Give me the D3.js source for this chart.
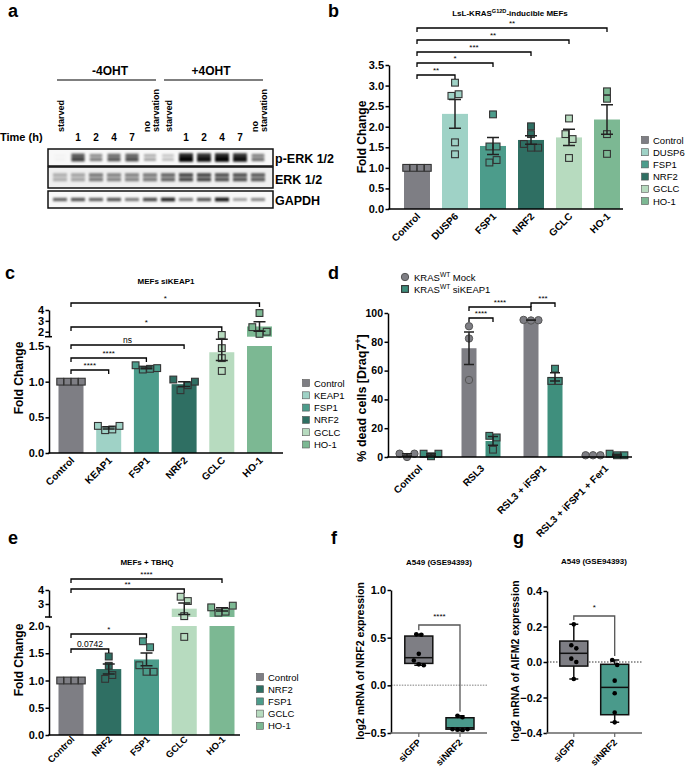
<!DOCTYPE html>
<html><head><meta charset="utf-8">
<script src="https://cdn.jsdelivr.net/npm/d3@7/dist/d3.min.js"></script>
<style>html,body{margin:0;padding:0;background:#fff}svg{display:block}</style>
</head><body>
<svg id="fig" width="685" height="767"></svg>
<script>
// ---------------- DATA ----------------
// Panel a: western blot, relative band intensities (0-1)
const blotLanes = ["starved","1","2","4","7","no starvation","starved","1","2","4","7","no starvation"];
const blotProteins = ["p-ERK 1/2","ERK 1/2","GAPDH"];
const pERKBand = [0.03,0.75,0.5,0.65,0.7,0.35,0.25,1.0,0.95,1.0,0.95,0.55];
const erkBand = [0.3,0.35,0.55,0.5,0.5,0.55,0.65,0.8,0.8,0.75,0.75,0.7];
const gapdhBand = [0.6,0.65,0.6,0.65,0.5,0.7,0.85,0.5,0.65,0.9,0.35,0.45];

// Panel b
const bCategories = ["Control","DUSP6","FSP1","NRF2","GCLC","HO-1"];
const bValues = [[1,1,1,1],[3.07,2.75,2.79,1.62,1.33],[2.30,1.52,1.52,1.13,1.19],[2.01,1.82,1.58,1.49,1.49],[2.20,1.82,1.70,1.24],[2.68,2.86,1.82,1.34]];
const bTicks = [0,0.5,1,1.5,2,2.5,3,3.5];
const bSignificance = ["**","*","***","**","**"];

// Panel c
const cCategories = ["Control","KEAP1","FSP1","NRF2","GCLC","HO-1"];
const cValues = [[1,1,1,1],[0.38,0.32,0.33,0.38],[1.23,1.17,1.18,1.19],[1.03,0.88,0.95,1.0],[1.70,1.47,1.33,1.15],[3.72,2.42,1.80,2.0]];
const cTicksLow = [0,0.5,1,1.5];
const cTicksHigh = [2,3,4];
const cSignificance = ["****","****","ns","*","*"];

// Panel d
const dGroups = ["Control","RSL3","RSL3 + iFSP1","RSL3 + iFSP1 + Fer1"];
const dSeries = ["Mock","siKEAP1"];
const dMock = [[2.3,0,2.3],[90.8,82.3,53.5],[95.2,94.8,95.0],[1.2,1.2,1.2]];
const dSiKEAP1 = [[2.3,0.5,2.3],[14.7,13.6,5.1],[61.3,52.8,52.8],[2.3,1.2,1.2]];
const dTicks = [0,20,40,60,80,100];
const dSignificance = ["****","****","***"];

// Panel e
const eCategories = ["Control","NRF2","FSP1","GCLC","HO-1"];
const eValues = [[1,1,1,1],[1.44,1.27,1.03,1.10],[1.72,1.61,1.28,1.16,1.16],[3.52,3.21,2.13,1.80],[2.76,2.38,2.45,2.88]];
const eTicksLow = [0,0.5,1,1.5,2];
const eTicksHigh = [3,4];
const eSignificance = ["0.0742","*","**","****"];

// Panels f, g: box stats [min, q1, median, q3, max] and points
const fgGroups = ["siGFP","siNRF2"];
const fBoxes = [[0.21,0.23,0.29,0.517,0.535],[-0.475,-0.46,-0.445,-0.34,-0.32]];
const fPoints = [[0.535,0.53,0.33,0.26,0.22,0.21],[-0.32,-0.335,-0.46,-0.465,-0.47,-0.46]];
const fTicks = [-0.5,0,0.5,1.0];
const gBoxes = [[-0.096,-0.023,0.049,0.118,0.212],[-0.34,-0.297,-0.143,-0.013,0.011]];
const gPoints = [[0.212,0.094,0.077,0.019,0.0,-0.096],[0.011,-0.017,-0.105,-0.176,-0.285,-0.34]];
const gTicks = [-0.4,-0.2,0,0.2,0.4];

// ---------------- DRAWING ----------------
const FONT = '"Liberation Sans", Arial, Helvetica, sans-serif';
const svg = d3.select("#fig").attr("font-family", FONT);
svg.append("rect").attr("width",685).attr("height",767).attr("fill","#fff");
const COLORS = {Control:"#7e7e84",DUSP6:"#9fd2c6",KEAP1:"#9fd2c6",FSP1:"#4c9c8b",NRF2:"#2f6f63",GCLC:"#b7dbbf","HO-1":"#7cb893"};
const MOCK = "#7e7e84", SIK = "#3f8f7d", BOXC = ["#7e7e84","#4a9a8b"];

function txt(g,x,y,t,fs,o={}){
  return g.append("text").attr("x",x).attr("y",y).attr("font-size",fs)
    .attr("font-weight",o.bold===false?"normal":"bold").attr("text-anchor",o.anchor||"start")
    .attr("fill","#000").text(t);
}
function rich(sel,parts,fs){
  parts.forEach(p=>{
    if(p.sup){ sel.append("tspan").attr("dy",-fs*0.4).attr("font-size",fs*0.7).text(p.t); }
    else if(p.after){ sel.append("tspan").attr("dy",fs*0.4).text(p.t); }
    else sel.append("tspan").text(p.t);
  });
  return sel;
}
function styleAxis(ax,fs){
  ax.attr("font-family",FONT).attr("font-size",fs).attr("font-weight","bold");
  ax.select(".domain").attr("stroke","#000").attr("stroke-width",1.5);
  ax.selectAll(".tick line").attr("stroke","#000").attr("stroke-width",1.5);
  ax.selectAll(".tick text").attr("fill","#000");
}
function dodge(vals,y,size){
  const order = vals.map((v,i)=>i).sort((a,b)=>y(vals[a])-y(vals[b]) || a-b);
  const offs = vals.map(()=>0);
  let cl = [order[0]];
  const flush=()=>{ const s=[...cl].sort((a,b)=>a-b); s.forEach((k,j)=>offs[k]=(j-(s.length-1)/2)*size); };
  for(let i=1;i<order.length;i++){
    const prev = cl[cl.length-1];
    if(Math.abs(y(vals[order[i]])-y(vals[prev]))<size) cl.push(order[i]); else { flush(); cl=[order[i]]; }
  }
  flush();
  return offs;
}
function bracket(g,x1,x2,y,lab,fs){
  g.append("path").attr("d",`M${x1},${y+4}V${y}H${x2}V${y+4}`).attr("fill","none").attr("stroke","#000").attr("stroke-width",1.3);
  txt(g,(x1+x2)/2,y-2.5,lab,fs,{bold:false,anchor:"middle"});
}
function sem(p){ return p.length>1 ? d3.deviation(p)/Math.sqrt(p.length) : 0; }
function errBar(g,X,m,se,y,w){
  if(!se) return;
  const lo=y(m-se), hi=y(m+se);
  g.append("path").attr("d",`M${X},${lo}V${hi}M${X-w},${lo}H${X+w}M${X-w},${hi}H${X+w}`)
   .attr("stroke","#222").attr("stroke-width",1.5).attr("fill","none");
}
function square(g,x,y,s,fill){
  g.append("rect").attr("x",x-s/2).attr("y",y-s/2).attr("width",s).attr("height",s)
   .attr("fill",fill).attr("stroke","#333").attr("stroke-width",1.1);
}

// panel letters
[["a",8,17],["b",328,17],["c",5,279],["d",328,279],["e",8,544],["f",331,544],["g",513,544]]
  .forEach(([l,x,y])=>txt(svg,x,y,l,18));

// ---------- Panel a: western blot ----------
(function(){
  const g = svg.append("g");
  const defs = svg.append("defs");
  defs.append("filter").attr("id","blur").attr("x","-50%").attr("y","-200%").attr("width","200%").attr("height","500%")
    .append("feGaussianBlur").attr("stdDeviation",1.0);
  const lane = d3.scaleBand().domain(d3.range(blotLanes.length)).range([51,267]);
  const lc = i => lane(i)+lane.bandwidth()/2;
  txt(g,110,75,"-4OHT",12,{anchor:"middle"});
  txt(g,211,75,"+4OHT",12,{anchor:"middle"});
  g.append("line").attr("x1",57).attr("x2",156).attr("y1",80).attr("y2",80).attr("stroke","#555").attr("stroke-width",1.5);
  g.append("line").attr("x1",164).attr("x2",263).attr("y1",80).attr("y2",80).attr("stroke","#555").attr("stroke-width",1.5);
  txt(g,0,141,"Time (h)",11);
  blotLanes.forEach((l,i)=>{
    const x = lc(i);
    if(l==="starved"){
      g.append("text").attr("transform",`translate(${x+4},132) rotate(-90)`).attr("font-size",9).attr("font-weight","bold").text(l);
    } else if(l==="no starvation"){
      const [a,b] = l.split(" ");
      g.append("text").attr("transform",`translate(${x},132) rotate(-90)`).attr("font-size",9).attr("font-weight","bold").text(a);
      g.append("text").attr("transform",`translate(${x+8.5},132) rotate(-90)`).attr("font-size",9).attr("font-weight","bold").text(b);
    } else {
      txt(g,x,141,l,10,{anchor:"middle"});
    }
  });
  const boxes = [{y:149,h:17,bg:"#f8f8f8"},{y:167,h:21,bg:"#efefef"},{y:191,h:17,bg:"#f8f8f8"}];
  boxes.forEach(b=>g.append("rect").attr("x",48).attr("y",b.y).attr("width",225).attr("height",b.h).attr("fill",b.bg));
  const bands = g.append("g").attr("filter","url(#blur)");
  pERKBand.forEach((v,i)=>{
    const w=11+3*v, h=2+2.6*v;
    [155.5,159.5].forEach((cy,k)=>bands.append("rect").attr("x",lc(i)-w/2).attr("y",cy-h/2).attr("width",w).attr("height",h)
      .attr("fill","#000").attr("opacity",k? v : v*0.85));
  });
  erkBand.forEach((v,i)=>{
    [175,179.5].forEach(cy=>bands.append("rect").attr("x",lc(i)-7).attr("y",cy-1.8).attr("width",14).attr("height",3.6)
      .attr("fill","#000").attr("opacity",v*0.9));
  });
  gapdhBand.forEach((v,i)=>{
    const h=2.5+1.5*v;
    bands.append("rect").attr("x",lc(i)-7).attr("y",199.5-h/2).attr("width",14).attr("height",h).attr("fill","#000").attr("opacity",v);
  });
  boxes.forEach(b=>g.append("rect").attr("x",48).attr("y",b.y).attr("width",225).attr("height",b.h).attr("fill","none").attr("stroke","#111").attr("stroke-width",1.5));
  [163,184,205].forEach((y,i)=>txt(g,275,y,blotProteins[i],12.5));
})();

// ---------- generic bar panel (b, c, e) ----------
function barPanel(cfg){
  const g = svg.append("g");
  const {cats,vals,x,y,segs,axisX0,axisX1,sig,sigY,leg} = cfg;
  const bw = x.bandwidth();
  const cx = c => x(c)+bw/2;
  const y0 = y(0);
  cats.forEach((c,i)=>{
    const m = d3.mean(vals[i]);
    segs.forEach(s=>{
      if(m<=s.lo) return;
      const top = Math.min(m,s.hi);
      g.append("rect").attr("x",cx(c)-bw/2).attr("width",bw).attr("y",y(top)).attr("height",y(s.lo)-y(top)).attr("fill",COLORS[c]);
    });
  });
  cats.forEach((c,i)=>{
    const offs = dodge(vals[i],y,7.2);
    vals[i].forEach((v,j)=>square(g,cx(c)+offs[j],y(v),6.8,COLORS[c]));
  });
  cats.forEach((c,i)=>errBar(g,cx(c),d3.mean(vals[i]),sem(vals[i]),y,6));
  segs.forEach(s=>{
    const sc = d3.scaleLinear().domain([s.lo,s.hi]).range([y(s.lo),y(s.hi)]);
    const ax = g.append("g").attr("transform",`translate(${axisX0},0)`)
      .call(d3.axisLeft(sc).tickValues(s.ticks).tickFormat(d3.format(s.fmt)).tickSize(3.5).tickSizeOuter(0).tickPadding(1.5));
    styleAxis(ax,11);
    if(s.brk) g.append("line").attr("x1",axisX0-4).attr("x2",axisX0+3).attr("y1",y(s.lo)).attr("y2",y(s.lo)).attr("stroke","#000").attr("stroke-width",1.5);
  });
  g.append("line").attr("x1",axisX0-0.75).attr("x2",axisX1).attr("y1",y0).attr("y2",y0).attr("stroke","#000").attr("stroke-width",1.5);
  cats.forEach(c=>{
    g.append("text").attr("transform",`translate(${cx(c)+4},${y0+cfg.xlabDy}) rotate(-45)`).attr("text-anchor","end")
      .attr("font-size",cfg.xlabFs).attr("font-weight","bold").text(c);
  });
  sig.forEach((s,i)=>bracket(g,cx(cats[0]),cx(cats[i+1]),sigY[i],s,s==="ns"||/\d/.test(s)?8.5:8));
  cats.forEach((c,i)=>{
    const yy = leg.y+leg.dy*i;
    g.append("rect").attr("x",leg.x-3.5).attr("y",yy-3.5).attr("width",7).attr("height",7).attr("fill",COLORS[c]).attr("stroke","#555").attr("stroke-width",0.6);
    txt(g,leg.x+8,yy+3.5,c,9.5,{bold:false});
  });
  const t = g.append("text").attr("x",cfg.titleX).attr("y",cfg.titleY).attr("text-anchor","middle").attr("font-size",8).attr("font-weight","bold");
  rich(t,cfg.title,8);
  g.append("text").attr("transform",`translate(${cfg.ylabX},${cfg.ylabY}) rotate(-90)`).attr("text-anchor","middle")
    .attr("font-size",12).attr("font-weight","bold").text("Fold Change");
}
function band(cats,c0,step,w){
  return d3.scaleBand().domain(cats).range([c0-step/2,c0-step/2+cats.length*step]).paddingInner(1-w/step).paddingOuter((1-w/step)/2);
}

// Panel b
barPanel({
  cats:bCategories, vals:bValues,
  x:band(bCategories,417,38,26),
  y:d3.scaleLinear().domain([0,3.5]).range([209,65]),
  segs:[{lo:0,hi:3.5,ticks:bTicks,fmt:".1f"}],
  axisX0:389, axisX1:623,
  sig:bSignificance, sigY:[75,63,52,40,28],
  leg:{x:645,y:140,dy:12.2},
  title:[{t:"LsL-KRAS"},{t:"G12D",sup:true},{t:"-inducible MEFs",after:true}], titleX:510, titleY:16,
  ylabX:366, ylabY:137, xlabDy:8, xlabFs:10
});

// Panel c
barPanel({
  cats:cCategories, vals:cValues,
  x:band(cCategories,71,37.7,25),
  y:d3.scaleLinear().domain([0,1.5,1.54,4]).range([453,346,336.7,310]),
  segs:[{lo:0,hi:1.5,ticks:cTicksLow,fmt:".1f"},{lo:1.54,hi:4,ticks:cTicksHigh,fmt:"d",brk:true}],
  axisX0:49, axisX1:283,
  sig:cSignificance, sigY:[370,358,345,327,303],
  leg:{x:306,y:383,dy:12.3},
  title:[{t:"MEFs siKEAP1"}], titleX:166, titleY:284,
  ylabX:22.5, ylabY:378, xlabDy:8, xlabFs:10
});

// Panel e
barPanel({
  cats:eCategories, vals:eValues,
  x:band(eCategories,71,37.75,25),
  y:d3.scaleLinear().domain([0,2,2.07,4]).range([735,626,617,590]),
  segs:[{lo:0,hi:2,ticks:eTicksLow,fmt:".1f"},{lo:2.07,hi:4,ticks:eTicksHigh,fmt:"d",brk:true}],
  axisX0:49, axisX1:240,
  sig:eSignificance, sigY:[649,634,589,579],
  leg:{x:260,y:677,dy:12.2},
  title:[{t:"MEFs + TBHQ"}], titleX:147, titleY:565,
  ylabX:22.5, ylabY:660, xlabDy:5, xlabFs:9.3
});

// ---------- Panel d ----------
(function(){
  const g = svg.append("g");
  const y = d3.scaleLinear().domain([0,100]).range([457,313]);
  const xg = d3.scaleBand().domain(dGroups).range([388,636]);
  const xs = d3.scalePoint().domain(dSeries).range([-12,12]);
  const gc = k => xg(k)+xg.bandwidth()/2;
  const series = [{name:dSeries[0],vals:dMock,color:MOCK,shape:"circle"},{name:dSeries[1],vals:dSiKEAP1,color:SIK,shape:"square"}];
  const bw = 15;
  series.forEach(s=>dGroups.forEach((k,i)=>{
    const m = d3.mean(s.vals[i]);
    g.append("rect").attr("x",gc(k)+xs(s.name)-bw/2).attr("width",bw).attr("y",y(m)).attr("height",y(0)-y(m)).attr("fill",s.color);
  }));
  series.forEach(s=>dGroups.forEach((k,i)=>{
    const offs = dodge(s.vals[i],y,7.4);
    s.vals[i].forEach((v,j)=>{
      const X = gc(k)+xs(s.name)+offs[j];
      if(s.shape==="circle") g.append("circle").attr("cx",X).attr("cy",y(v)).attr("r",3.7).attr("fill",s.color).attr("stroke","#555").attr("stroke-width",1);
      else square(g,X,y(v),6.8,s.color);
    });
  }));
  series.forEach(s=>dGroups.forEach((k,i)=>errBar(g,gc(k)+xs(s.name),d3.mean(s.vals[i]),sem(s.vals[i]),y,5)));
  const ax = g.append("g").attr("transform","translate(388,0)")
    .call(d3.axisLeft(y).tickValues(dTicks).tickFormat(d3.format("d")).tickSize(3.5).tickSizeOuter(0).tickPadding(1.5));
  styleAxis(ax,10.5);
  g.append("line").attr("x1",387.25).attr("x2",632).attr("y1",y(0)).attr("y2",y(0)).attr("stroke","#000").attr("stroke-width",1.5);
  dGroups.forEach(k=>g.append("text").attr("transform",`translate(${gc(k)+4},${y(0)+12}) rotate(-45)`).attr("text-anchor","end")
    .attr("font-size",10).attr("font-weight","bold").text(k));
  const px = (k,s)=>gc(k)+xs(s);
  bracket(g,px(dGroups[1],dSeries[0]),px(dGroups[1],dSeries[1]),318,dSignificance[0],8);
  bracket(g,px(dGroups[1],dSeries[0]),px(dGroups[2],dSeries[0]),307,dSignificance[1],8);
  bracket(g,px(dGroups[2],dSeries[0]),px(dGroups[2],dSeries[1]),303,dSignificance[2],8);
  g.append("circle").attr("cx",405).attr("cy",277).attr("r",3.7).attr("fill",MOCK).attr("stroke","#555");
  square(g,405,289,6.8,SIK);
  rich(g.append("text").attr("x",414).attr("y",280.5).attr("font-size",9.5),[{t:"KRAS"},{t:"WT",sup:true},{t:" "+dSeries[0],after:true}],9.5);
  rich(g.append("text").attr("x",414).attr("y",292.5).attr("font-size",9.5),[{t:"KRAS"},{t:"WT",sup:true},{t:" "+dSeries[1],after:true}],9.5);
  const yl = g.append("text").attr("transform","translate(366,398) rotate(-90)").attr("text-anchor","middle").attr("font-size",12.5).attr("font-weight","bold");
  rich(yl,[{t:"% dead cells [Draq7"},{t:"+",sup:true},{t:"]",after:true}],12.5);
})();

// ---------- box panels (f, g) ----------
function boxPanel(cfg){
  const g = svg.append("g");
  const {boxes,pts,y,x,axisX0,axisX1,ticks} = cfg;
  const bw = 28;
  g.append("line").attr("x1",axisX0).attr("x2",axisX1).attr("y1",y(0)).attr("y2",y(0))
    .attr("stroke",cfg.zeroColor).attr("stroke-width",cfg.zeroW).attr("stroke-dasharray",cfg.zeroDash);
  fgGroups.forEach((k,i)=>{
    const [mn,q1,md,q3,mx] = boxes[i], X = x(k);
    g.append("path").attr("d",`M${X},${y(mn)}V${y(q1)}M${X},${y(q3)}V${y(mx)}M${X-4.5},${y(mn)}H${X+4.5}M${X-4.5},${y(mx)}H${X+4.5}`)
      .attr("stroke","#111").attr("stroke-width",1.5);
    g.append("rect").attr("x",X-bw/2).attr("width",bw).attr("y",y(q3)).attr("height",y(q1)-y(q3))
      .attr("fill",BOXC[i]).attr("stroke","#111").attr("stroke-width",1.5);
    g.append("line").attr("x1",X-bw/2).attr("x2",X+bw/2).attr("y1",y(md)).attr("y2",y(md)).attr("stroke","#111").attr("stroke-width",1.5);
    const offs = dodge(pts[i],y,5);
    pts[i].forEach((v,j)=>g.append("circle").attr("cx",X+offs[j]).attr("cy",y(v)).attr("r",2.3).attr("fill","#000"));
  });
  const ax = g.append("g").attr("transform",`translate(${axisX0},0)`)
    .call(d3.axisLeft(y).tickValues(ticks).tickFormat(d3.format(".1f")).tickSize(3.5).tickSizeOuter(0).tickPadding(1.5));
  styleAxis(ax,11);
  const yb = y.range()[0];
  g.append("line").attr("x1",axisX0-0.75).attr("x2",axisX1).attr("y1",yb).attr("y2",yb).attr("stroke","#666").attr("stroke-width",1.5);
  fgGroups.forEach(k=>{
    g.append("line").attr("x1",x(k)).attr("x2",x(k)).attr("y1",yb).attr("y2",yb+4).attr("stroke","#666").attr("stroke-width",1.2);
    g.append("text").attr("transform",`translate(${x(k)+3},${yb+10}) rotate(-45)`).attr("text-anchor","end")
      .attr("font-size",9.5).attr("font-weight","bold").text(k);
  });
  const x1 = x(fgGroups[0]), x2 = x(fgGroups[1]);
  g.append("path").attr("d",`M${x1},${y(boxes[0][4])-4}V${cfg.sigY}H${x2}V${y(boxes[1][4])-4}`).attr("fill","none").attr("stroke","#555").attr("stroke-width",1.3);
  txt(g,(x1+x2)/2,cfg.sigY-6,cfg.sig,8,{bold:false,anchor:"middle"});
  txt(g,cfg.titleX,cfg.titleY,"A549 (GSE94393)",8,{anchor:"middle"});
  g.append("text").attr("transform",`translate(${cfg.ylabX},661) rotate(-90)`).attr("text-anchor","middle")
    .attr("font-size",10.5).attr("font-weight","bold").text(cfg.ylab);
}
boxPanel({
  boxes:fBoxes, pts:fPoints, ticks:fTicks,
  y:d3.scaleLinear().domain([-0.5,1.0]).range([733,590]),
  x:d3.scalePoint().domain(fgGroups).range([418.8,460]),
  axisX0:391, axisX1:487, zeroColor:"#aaa", zeroW:1.5, zeroDash:"1.5,1.2",
  sig:"****", sigY:625, titleX:439, titleY:565,
  ylab:"log2 mRNA of NRF2 expression", ylabX:364
});
boxPanel({
  boxes:gBoxes, pts:gPoints, ticks:gTicks,
  y:d3.scaleLinear().domain([-0.4,0.4]).range([733,591]),
  x:d3.scalePoint().domain(fgGroups).range([573.8,614.7]),
  axisX0:547, axisX1:642, zeroColor:"#333", zeroW:1, zeroDash:"1.5,1.5",
  sig:"*", sigY:616, titleX:594, titleY:564,
  ylab:"log2 mRNA of AIFM2 expression", ylabX:519
});
</script>
</body></html>
